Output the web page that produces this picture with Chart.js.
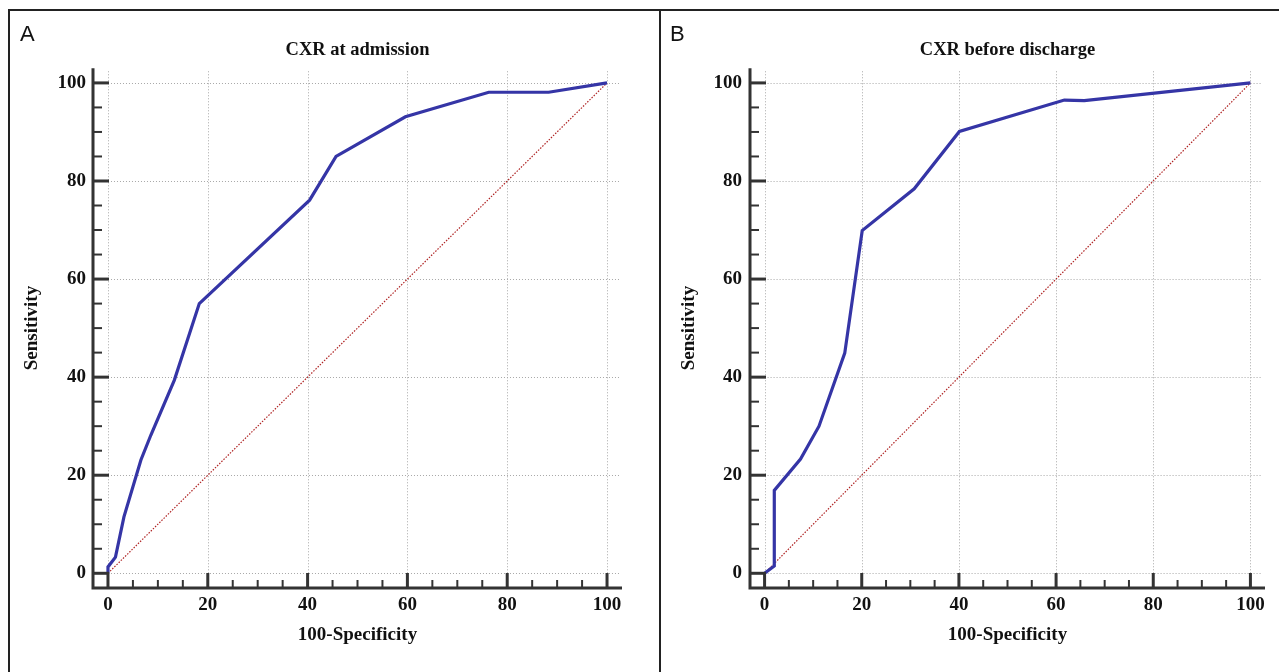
<!DOCTYPE html>
<html>
<head>
<meta charset="utf-8">
<script src="https://cdn.jsdelivr.net/npm/chart.js@4/dist/chart.umd.min.js"></script>
<style>
  body { margin: 0; background: #fff; }
  #page { position: relative; width: 1279px; height: 672px; overflow: hidden; }
  .frame { position: absolute; left: 8px; top: 9px; right: -10px; bottom: -10px;
           border-top: 2px solid #222; border-left: 2px solid #222; }
  .divider { position: absolute; left: 659px; top: 9px; width: 2px; bottom: 0; background: #222; }
  .tag { position: absolute; top: 23px; font: 22px "Liberation Sans", Arial, sans-serif; line-height: 22px; color: #111; }
  canvas { position: absolute; top: 0; }
</style>
</head>
<body>
<div id="page">
  <div class="frame"></div>
  <div class="divider"></div>
  <canvas id="chartA" width="659" height="672" style="left:0"></canvas>
  <canvas id="chartB" width="619" height="672" style="left:660px"></canvas>
  <div class="tag" style="left:20px">A</div>
  <div class="tag" style="left:670px">B</div>
</div>
<script>
// ROC curve A - CXR at admission
const specA = [0, 0, 1.5, 3.2, 6.6, 8.6, 13.3, 18.3, 40.4, 45.7, 59.6, 76.3, 88.3, 100];
const sensA = [0, 1.3, 3.3, 11.5, 23.1, 28.2, 39.4, 55.0, 76.1, 85.0, 93.1, 98.1, 98.1, 100];
// ROC curve B - CXR before discharge
const specB = [0, 2.0, 2.0, 7.4, 11.2, 16.5, 20.1, 30.8, 40.1, 61.7, 65.8, 100];
const sensB = [0, 1.5, 16.9, 23.3, 30.0, 44.9, 69.9, 78.4, 90.1, 96.5, 96.4, 100];
// reference diagonal
const diagX = [0, 100];
const diagY = [0, 100];
const majorTicks = [0, 20, 40, 60, 80, 100];
const minorStep = 5;

const serif = '"Liberation Serif", "Times New Roman", serif';
const curveColor = '#3535a6';
const axisColor = '#333';

function toPoints(xs, ys) {
    return xs.map((x, i) => ({ x: x, y: ys[i] }));
}

// grid, axis lines and inward ticks
const axesPlugin = {
    id: 'rocAxes',
    beforeDatasetsDraw(chart) {
        const ctx = chart.ctx;
        const xs = chart.scales.x, ys = chart.scales.y;
        const x0 = xs.getPixelForValue(0), xEnd = xs.getPixelForValue(102.5);
        const y0 = ys.getPixelForValue(0), yEnd = ys.getPixelForValue(102.5);
        ctx.save();
        ctx.strokeStyle = '#a8a8a8';
        ctx.lineWidth = 1;
        ctx.setLineDash([1, 2]);
        majorTicks.forEach(v => {
            const px = Math.round(xs.getPixelForValue(v)) + 0.5;
            ctx.beginPath(); ctx.moveTo(px, y0); ctx.lineTo(px, yEnd); ctx.stroke();
            const py = Math.round(ys.getPixelForValue(v)) + 0.5;
            ctx.beginPath(); ctx.moveTo(x0, py); ctx.lineTo(xEnd, py); ctx.stroke();
        });
        ctx.restore();
    },
    afterDatasetsDraw(chart) {
        const ctx = chart.ctx;
        const area = chart.chartArea;
        const xs = chart.scales.x, ys = chart.scales.y;
        ctx.save();
        ctx.strokeStyle = axisColor;
        ctx.lineCap = 'butt';
        // axis lines
        ctx.lineWidth = 3;
        ctx.beginPath();
        ctx.moveTo(area.left, area.top);
        ctx.lineTo(area.left, area.bottom + 1.5);
        ctx.moveTo(area.left - 1.5, area.bottom);
        ctx.lineTo(area.right, area.bottom);
        ctx.stroke();
        // ticks every 5, majors every 20
        for (let v = 0; v <= 100; v += minorStep) {
            const major = v % 20 === 0;
            ctx.lineWidth = major ? 3 : 2;
            const len = major ? 16 : 9;
            const py = ys.getPixelForValue(v);
            ctx.beginPath(); ctx.moveTo(area.left, py); ctx.lineTo(area.left + len, py); ctx.stroke();
            const px = xs.getPixelForValue(v);
            const lenX = major ? 15 : 8;
            ctx.beginPath(); ctx.moveTo(px, area.bottom); ctx.lineTo(px, area.bottom - lenX); ctx.stroke();
        }
        ctx.restore();
    }
};

function makeRoc(id, title, spec, sens, cfg) {
    const fixTicks = s => { s.ticks = majorTicks.map(v => ({ value: v })); };
    return new Chart(document.getElementById(id), {
        type: 'line',
        data: {
            datasets: [{
                data: toPoints(spec, sens),
                borderColor: curveColor,
                borderWidth: 3.2,
                pointRadius: 0,
                tension: 0,
                fill: false
            }, {
                data: toPoints(diagX, diagY),
                borderColor: 'rgb(175, 35, 35)',
                borderWidth: 1.2,
                borderDash: [1.5, 1.5],
                pointRadius: 0,
                fill: false
            }]
        },
        options: {
            responsive: false,
            animation: false,
            layout: { padding: { left: 0, top: 0, right: cfg.padRight, bottom: 0 } },
            plugins: {
                legend: { display: false },
                tooltip: { enabled: false },
                title: {
                    display: true,
                    text: title,
                    fullSize: false,
                    color: '#111',
                    font: { family: serif, size: 18.5, weight: 'bold' },
                    padding: { top: 39, bottom: 7 }
                }
            },
            scales: {
                x: {
                    type: 'linear',
                    min: -3, max: 103,
                    afterBuildTicks: fixTicks,
                    afterFit: s => { s.height = 84; },
                    grid: { display: false, drawTicks: false },
                    border: { display: false },
                    ticks: { color: '#111', padding: 6, font: { family: serif, size: 19, weight: 'bold' } },
                    title: {
                        display: true, text: '100-Specificity', color: '#111',
                        font: { family: serif, size: 19, weight: 'bold' },
                        padding: { top: 0, bottom: 26 }
                    }
                },
                y: {
                    type: 'linear',
                    min: -3, max: 103,
                    afterBuildTicks: fixTicks,
                    afterFit: s => { s.width = cfg.yWidth; },
                    grid: { display: false, drawTicks: false },
                    border: { display: false },
                    ticks: { color: '#111', padding: cfg.tickPad, font: { family: serif, size: 19, weight: 'bold' } },
                    title: {
                        display: true, text: 'Sensitivity', color: '#111',
                        font: { family: serif, size: 19, weight: 'bold' },
                        padding: { top: cfg.titlePad, bottom: 0 }
                    }
                }
            }
        },
        plugins: [axesPlugin]
    });
}

makeRoc('chartA', 'CXR at admission', specA, sensA, { padRight: 37, yWidth: 93, tickPad: 7, titlePad: 21 });
makeRoc('chartB', 'CXR before discharge', specB, sensB, { padRight: 14, yWidth: 90, tickPad: 8, titlePad: 18 });
</script>
</body>
</html>
